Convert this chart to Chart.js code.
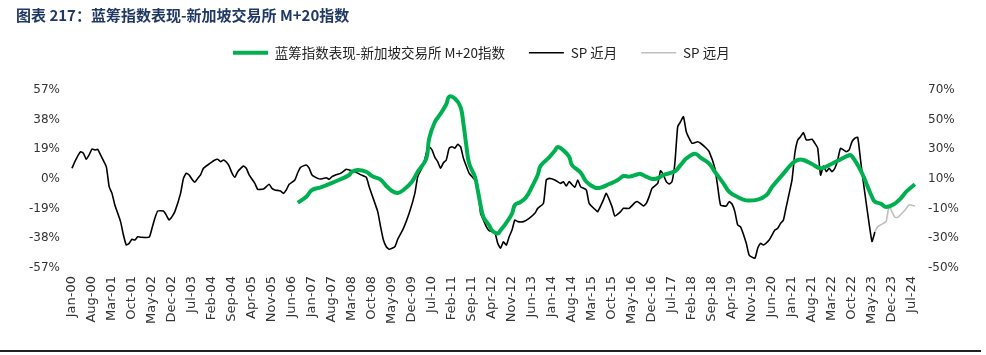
<!DOCTYPE html>
<html>
<head>
<meta charset="utf-8">
<script src="https://cdn.jsdelivr.net/npm/chart.js@4.4.1/dist/chart.umd.min.js"></script>
<style>
  html, body { margin: 0; padding: 0; background: #fff; }
  #wrap { position: relative; width: 986px; height: 355px; overflow: hidden; }
  #title { position: absolute; left: 16px; top: 4px; font: bold 15px "Noto Sans CJK SC", sans-serif; color: #203864; white-space: nowrap; }
  #bottomRule { position: absolute; left: 0; top: 350px; width: 981px; height: 2px; background: #222; }
  #c { position: absolute; left: 0; top: 0; }
</style>
</head>
<body>
<div id="wrap">
  <canvas id="c" width="986" height="355"></canvas>
  <div id="title">图表 217：蓝筹指数表现-新加坡交易所 M+20指数</div>
  <div id="bottomRule"></div>
</div>
<script>
// ---- Data (months counted from Jan-00 = 0) ----
const xTickLabels = ["Jan-00","Aug-00","Mar-01","Oct-01","May-02","Dec-02","Jul-03","Feb-04","Sep-04","Apr-05","Nov-05","Jun-06","Jan-07","Aug-07","Mar-08","Oct-08","May-09","Dec-09","Jul-10","Feb-11","Sep-11","Apr-12","Nov-12","Jun-13","Jan-14","Aug-14","Mar-15","Oct-15","May-16","Dec-16","Jul-17","Feb-18","Sep-18","Apr-19","Nov-19","Jun-20","Jan-21","Aug-21","Mar-22","Oct-22","May-23","Dec-23","Jul-24"];
const xTickStep = 7;

const leftTicks = [-57, -38, -19, 0, 19, 38, 57];
const rightTicks = [-50, -30, -10, 10, 30, 50, 70];

const seriesNames = ["蓝筹指数表现-新加坡交易所 M+20指数", "SP 近月", "SP 远月"];

// SP 近月 (left axis, %)
const nearMonth = [0,1,2,3,4,5,6,7,8,9,10,12,13,14,15,17,18,19,20,21,22,23,24,27,28,29,30,32,33,34,35,36,38,39,40,41,42,43,44,45,46,48,50,51,52,53,54,55,56,57,58,60,61,62,64,65,67,69,70,71,73,74,75,76,78,79,80,82,83,84,86,87,89,90,91,93,94,96,97,99,101,103,104,105,107,108,109,110,111,113,114,116,118,120,121,123,124,125,126,127,128,129,130,131,132,133,134,135,136,137,138,139,141,142,143,144,145,146,148,149,150,151,152,153,154,155,156,158,160,162,163,165,166,167,169,171,172,173,174,176,177,178,180,181,183,184,186,187,189,190,192,193,195,197,198,200,201,202,203,205,206,207,208,209,210,211,212,213,214,215,216,217,219,220,222,223,225,226,227,229,230,231,232,233,234,236,237,239,240,241,242,244,245,246,247,248,249,250,252,253,254,255,256,257,259,260,261,262,263,264,265,266,267,268,269,271,272,273,274,275,276,277,278,279,280,281];
const nearValue = [6.9,11.1,14.7,17.5,16.5,12.6,15.4,19.2,18.6,19.0,15.4,7.9,-4.9,-9.2,-16.7,-27.3,-35.9,-42.3,-41.2,-38.6,-39.1,-37.0,-37.3,-37.3,-31.6,-25.2,-20.5,-20.5,-23.1,-26.3,-24.1,-20.9,-9.2,0.4,3.7,2.6,-0.2,-2.1,0.4,2.6,6.9,9.6,12.2,12.6,11.1,12.2,10.9,8.3,3.7,1.1,4.7,8.3,6.9,2.6,-2.8,-6.6,-6.4,-3.4,-6.0,-7.0,-7.7,-9.2,-7.0,-3.4,-0.6,4.0,7.5,9.0,6.9,2.6,0.4,0.0,0.8,-0.2,1.5,3.0,3.6,6.2,5.8,4.7,2.8,1.1,-4.9,-10.2,-20.9,-30.5,-39.1,-43.4,-45.0,-43.4,-38.6,-31.6,-22.0,-9.2,1.5,9.0,16.5,20.7,18.6,13.9,11.1,6.9,10.4,12.2,19.7,20.7,19.7,22.2,20.7,13.3,8.3,3.7,-0.6,-4.9,-22.0,-26.3,-30.5,-33.1,-34.4,-41.2,-44.4,-40.2,-42.3,-37.0,-32.7,-26.3,-27.3,-27.3,-25.2,-22.0,-18.8,-15.6,-0.6,0.4,-0.6,-2.8,-1.7,-4.5,-1.7,-5.3,-0.6,-4.9,-7.0,-15.6,-19.4,-20.9,-13.4,-9.2,-17.7,-23.7,-20.9,-18.8,-18.8,-15.2,-14.5,-17.3,-15.6,-11.3,-6.0,-2.8,5.3,2.6,-1.7,-3.2,-1.7,10.1,33.5,36.7,39.9,30.3,26.1,22.9,23.9,22.9,19.7,17.5,6.9,-4.9,-16.7,-17.3,-14.5,-16.0,-20.9,-29.5,-30.7,-41.2,-48.7,-50.8,-44.4,-41.2,-42.3,-39.1,-35.9,-32.7,-31.6,-28.4,-26.3,-17.7,-0.6,16.5,25.0,27.1,29.7,25.0,25.4,22.9,19.7,2.5,8.3,4.7,6.9,4.7,6.9,12.2,19.7,17.5,18.6,24.0,26.1,26.7,12.0,-2.5,-15.7,-28.7,-40.0,-34.0];

// SP 远月 (left axis, %)
const farMonth = [281,282,284,285,286,287,288,289,291,292,293,295];
const farValue = [-33.8,-30.5,-28.4,-27.0,-17.0,-21.0,-24.5,-24.6,-21.0,-18.8,-16.5,-17.3];

// 蓝筹指数表现-新加坡交易所 M+20指数 (right axis, %)
const m20Month = [79,82,84,87,90,94,97,98,100,103,105,108,110,112,114,116,119,121,124,125,127,129,131,132,134,136,137,138,139,141,142,143,144,146,147,149,150,152,154,155,157,159,161,163,164,167,169,170,172,174,175,178,180,183,185,188,191,193,195,198,199,201,203,205,207,211,213,215,218,220,223,225,228,230,233,236,240,243,245,249,252,254,256,259,262,265,268,272,273,276,278,280,281,283,285,288,290,292,295];
const m20Value = [-6.0,-1.9,2.6,4.4,6.6,9.8,12.7,14.9,16.1,14.9,12.0,9.6,5.3,1.9,0.6,2.6,8.2,14.9,23.8,37.2,48.4,54.1,60.4,65.5,64.2,58.5,47.3,32.7,20.4,11.6,2.6,-7.7,-15.6,-21.2,-24.6,-26.8,-24.6,-19.5,-13.3,-7.5,-5.5,-2.1,4.8,12.7,18.8,24.6,29.1,31.6,29.3,25.0,19.4,14.4,8.2,4.2,4.2,6.6,9.3,12.0,11.6,13.2,13.4,11.6,10.0,10.5,12.7,15.2,19.4,23.8,27.1,24.4,20.4,14.9,7.1,1.4,-2.1,-4.4,-3.9,-1.0,4.6,13.6,20.4,22.8,22.8,20.1,17.2,19.4,22.3,26.0,25.3,15.9,7.1,-2.1,-5.3,-6.6,-8.9,-6.6,-3.2,1.5,6.4];

// ---- helpers ----
const toPoints = (xs, ys) => xs.map((x, i) => ({ x: x, y: ys[i] }));
const tickIndex = xTickLabels.map((_, i) => i * xTickStep);

const legendPlacePlugin = {
  id: 'legendPlace',
  beforeLayout(chart) {
    const lg = chart.legend;
    if (lg && !lg._patched) {
      const f = lg.fit;
      lg.fit = function () { f.call(this); this.height = 68; };
      lg._patched = true;
    }
  },
  afterLayout(chart) {
    const lg = chart.legend;
    if (lg) {
      const w = lg.right - lg.left;
      lg.left = 209;
      lg.right = 209 + w;
    }
  }
};

const tickFont = { family: "'DejaVu Sans', sans-serif", size: 12 };

new Chart(document.getElementById('c'), {
  type: 'line',
  data: {
    datasets: [
      { label: seriesNames[0], data: toPoints(m20Month, m20Value), yAxisID: 'yR',
        borderColor: '#00B050', backgroundColor: '#00B050', borderWidth: 4, tension: 0.4,
        pointRadius: 0, order: 0 },
      { label: seriesNames[1], data: toPoints(nearMonth, nearValue), yAxisID: 'yL',
        borderColor: '#000000', backgroundColor: '#000000', borderWidth: 1.6, tension: 0.15,
        pointRadius: 0, order: 1 },
      { label: seriesNames[2], data: toPoints(farMonth, farValue), yAxisID: 'yL',
        borderColor: '#BFBFBF', backgroundColor: '#BFBFBF', borderWidth: 1.6, tension: 0.15,
        pointRadius: 0, order: 2 }
    ]
  },
  options: {
    responsive: false,
    animation: false,
    layout: { padding: { left: 0, right: 0, top: 22, bottom: 0 } },
    plugins: {
      legend: {
        position: 'top',
        align: 'start',
        labels: {
          usePointStyle: true,
          pointStyle: 'line',
          pointStyleWidth: 35,
          padding: 24,
          color: '#222',
          font: { family: "'Noto Sans CJK SC', sans-serif", size: 13.5 }
        }
      },
      tooltip: { enabled: false }
    },
    scales: {
      x: {
        type: 'linear',
        min: -2.8,
        max: 297.5,
        grid: { display: false, drawTicks: false },
        border: { display: false },
        afterFit: (s) => { s.height = 87; },
        afterBuildTicks: (s) => { s.ticks = tickIndex.map(v => ({ value: v })); },
        ticks: {
          autoSkip: false,
          maxRotation: 90,
          minRotation: 90,
          padding: 8,
          color: '#333',
          font: { family: "'DejaVu Sans', sans-serif", size: 13 },
          callback: (v) => xTickLabels[Math.round(v / xTickStep)]
        }
      },
      yL: {
        position: 'left',
        min: -57, max: 57,
        grid: { display: false, drawTicks: false },
        border: { display: false },
        afterFit: (s) => { s.width = 64; },
        afterBuildTicks: (s) => { s.ticks = leftTicks.map(v => ({ value: v })); },
        ticks: { padding: 4, color: '#333', font: tickFont, callback: (v) => v + '%' }
      },
      yR: {
        position: 'right',
        min: -50, max: 70,
        grid: { display: false, drawTicks: false },
        border: { display: false },
        afterFit: (s) => { s.width = 64; },
        afterBuildTicks: (s) => { s.ticks = rightTicks.map(v => ({ value: v })); },
        ticks: { padding: 6, color: '#333', font: tickFont, callback: (v) => v + '%' }
      }
    }
  },
  plugins: [legendPlacePlugin]
});
</script>
</body>
</html>
